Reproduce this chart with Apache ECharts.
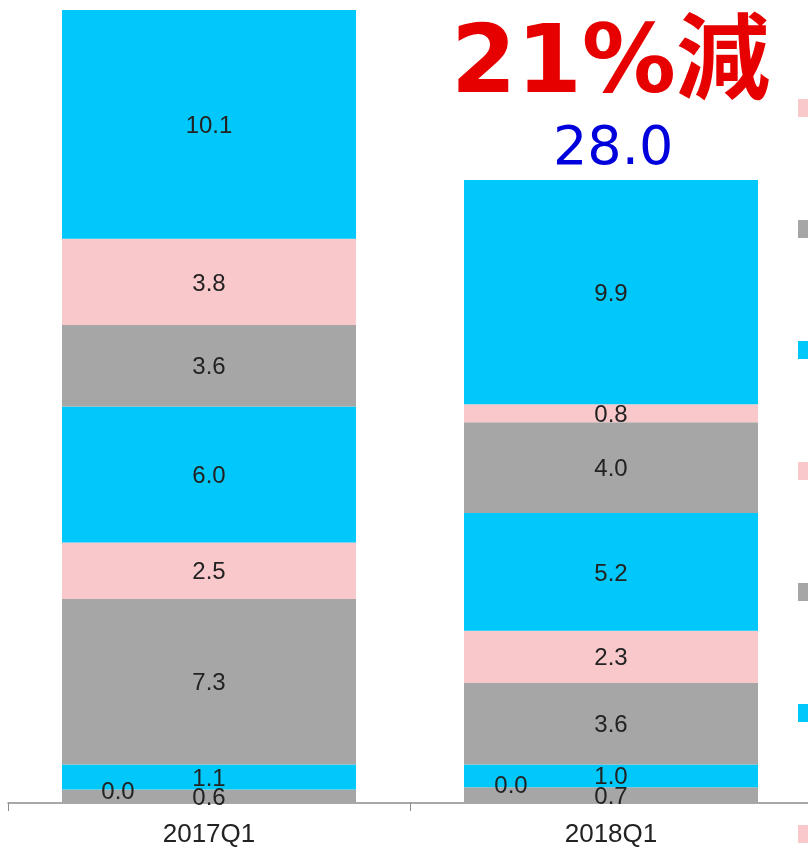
<!DOCTYPE html>
<html>
<head>
<meta charset="utf-8">
<script src="https://cdn.jsdelivr.net/npm/echarts@6/dist/echarts.min.js"></script>
<style>
  html, body { margin: 0; padding: 0; background: #fff; }
  #chart { width: 808px; height: 851px; }
</style>
</head>
<body>
<div id="chart"></div>
<script>
const categories = ["2017Q1", "2018Q1"];

// stack order, bottom to top
const seriesNames = ["系列1", "系列2", "系列3", "系列4", "系列5", "系列6", "系列7", "系列8", "系列9"];
const seriesColors = ["gray", "pink", "blue", "gray", "pink", "blue", "gray", "pink", "blue"];
const seriesValues = [
  [0.6, 0.7],
  [0.0, 0.0],
  [1.1, 1.0],
  [7.3, 3.6],
  [2.5, 2.3],
  [6.0, 5.2],
  [3.6, 4.0],
  [3.8, 0.8],
  [10.1, 9.9]
];

const headline = "21%減";
const total2018 = "28.0";

const palette = { gray: "#a6a6a6", pink: "#f9c8ca", blue: "#00c8fa" };

const chart = echarts.init(document.getElementById("chart"));

const series = seriesValues.map((vals, i) => {
  const isZero = vals.every((v) => v === 0);
  return {
    name: seriesNames[i],
    type: "bar",
    stack: "total",
    barWidth: 294,
    itemStyle: { color: palette[seriesColors[i]] },
    label: {
      show: true,
      position: "inside",
      fontFamily: "Liberation Sans",
      fontSize: 24,
      color: "#222",
      offset: [0, 2],
      formatter: (p) => p.value.toFixed(1),
    },
    data: vals.map((v, j) => {
      if (!isZero) return v;
      // zero-height segment: its label sits off to the left
      const offsets = [[-91, 3], [-100, -1]];
      return { value: v, label: { offset: offsets[j] } };
    }),
  };
});

const option = {
  animation: false,
  grid: { left: 8, top: 10, width: 804, height: 793, outerBoundsMode: "none" },
  legend: {
    orient: "vertical",
    left: 793,
    top: -27,
    itemWidth: 18,
    itemHeight: 18,
    itemGap: 103,
    icon: "rect",
    textStyle: { fontSize: 14, lineHeight: 18, color: "#222" },
    data: seriesNames.slice().reverse(),
  },
  xAxis: {
    type: "category",
    data: categories,
    axisLine: { lineStyle: { color: "#8c8c8c", width: 1.5 } },
    axisTick: { show: true, length: 8, lineStyle: { color: "#8c8c8c" } },
    axisLabel: {
      fontFamily: "Liberation Sans",
      fontSize: 26,
      color: "#222",
      margin: 19,
    },
  },
  yAxis: {
    type: "value",
    min: 0,
    max: 35,
    show: false,
  },
  graphic: [
    {
      type: "text",
      left: 451,
      top: 21,
      style: {
        text: headline,
        font: "bold 94px 'DejaVu Sans', 'Noto Sans CJK JP'",
        fill: "#e60000",
      },
    },
    {
      type: "text",
      left: 553,
      top: 123,
      style: {
        text: total2018,
        font: "54px 'DejaVu Sans'",
        fill: "#0000dd",
      },
    },
  ],
  series: series,
};

chart.setOption(option);
</script>
</body>
</html>
